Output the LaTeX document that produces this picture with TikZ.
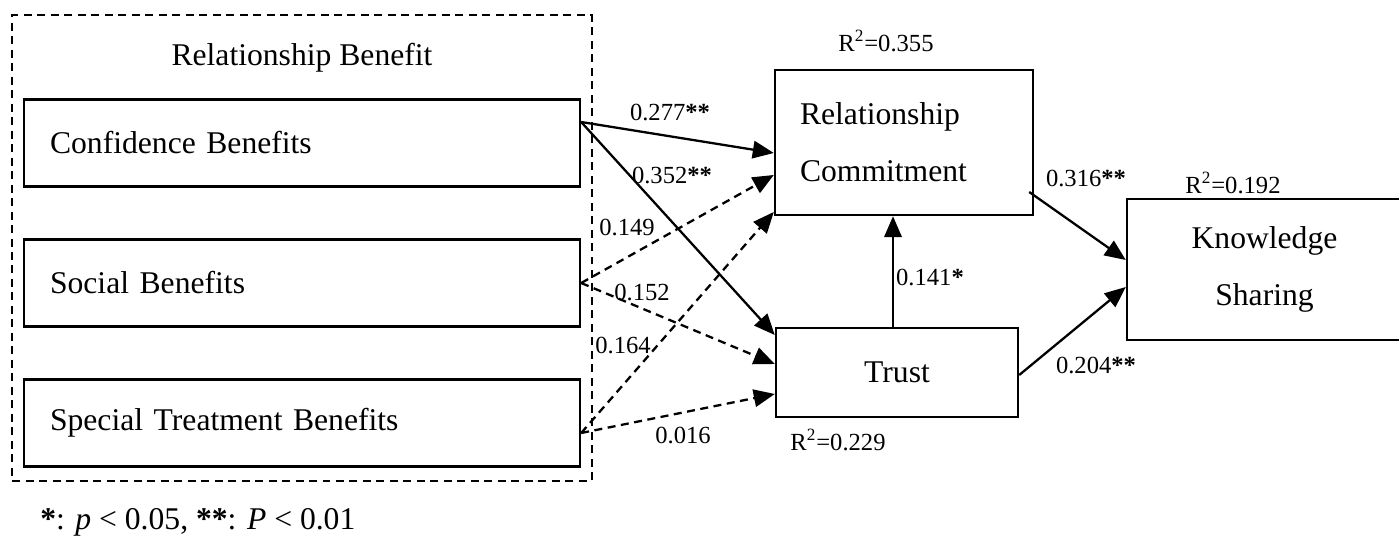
\documentclass[tikz,border=0pt]{standalone}
\usepackage{fontspec}
\setmainfont{Liberation Serif}
\usetikzlibrary{positioning,arrows.meta}

\tikzset{
  benefit/.style={draw,line width=1.4pt,minimum width=11.12cm,minimum height=1.74cm,
    text width=10.08cm,inner xsep=0.52cm,align=left},
  construct/.style={draw,line width=1.4pt,inner sep=0pt},
  sigpath/.style={line width=1.3pt,->},
  nspath/.style={line width=1.3pt,->,dash pattern=on 1.6mm off 1.1mm},
  coef/.style={font=\fontsize{14}{16}\selectfont,inner sep=0pt}
}

\begin{document}
\begin{tikzpicture}[x=0.02cm,y=-0.02cm,>={Triangle[length=4.2mm,width=3.5mm]},
  font=\fontsize{18}{21.6}\selectfont]
\useasboundingbox (0,0) rectangle (1399,537);

% ================= Relationship benefit group =================
\node[draw,line width=1.2pt,dash pattern=on 1.6mm off 1.1mm,minimum width=11.6cm,
  minimum height=9.32cm] (rb) at (302,248) {};
\node (rbtitle) at (302,58) {Relationship Benefit};
\node[benefit] (cb)  at (302,143) {Confidence Benefits};
\node[benefit] (sb)  at (302,283) {Social Benefits};
\node[benefit] (stb) at (302,423) {Special Treatment Benefits};

% ================= Mediators and outcome =================
\node[construct,minimum width=5.16cm,minimum height=2.9cm,text width=4.16cm,
  inner xsep=0.5cm,align=left,font=\fontsize{18}{32.3}\selectfont] (rc) at (904,142.5)
  {Relationship\\Commitment};
\node[construct,minimum width=4.84cm,minimum height=1.78cm] (tr) at (897,372.5) {Trust};
\node[construct,minimum width=5.5cm,minimum height=2.82cm,align=center,
  font=\fontsize{18}{32.9}\selectfont] (ks) at (1264.5,269.5) {Knowledge\\Sharing};

\node[coef] (r2rc) at (886,41)   {R\textsuperscript{2}=0.355};
\node[coef] (r2tr) at (838,440)  {R\textsuperscript{2}=0.229};
\node[coef] (r2ks) at (1233,183) {R\textsuperscript{2}=0.192};

% ================= Paths =================
\draw[sigpath] ([yshift=4.2mm]cb.east) -- ([yshift=-2.1mm]rc.west);
\draw[sigpath] ([yshift=4.2mm]cb.east) -- ([yshift=7.5mm]tr.west);
\draw[nspath] (sb.east) -- ([yshift=-6.5mm]rc.west);
\draw[nspath] (sb.east) -- ([yshift=1.7mm]tr.west);
\draw[nspath] ([yshift=-2mm]stb.east) -- ([yshift=-13.9mm]rc.west);
\draw[nspath] ([yshift=-2mm]stb.east) -- ([yshift=-4.3mm]tr.west);
\draw[sigpath] ([xshift=-0.8mm]tr.north) -- ([xshift=-0.8mm]tr.north |- rc.south);
\draw[sigpath] ([xshift=-1mm,yshift=-9.9mm]rc.east) -- ([yshift=1.9mm]ks.west);
\draw[sigpath] ([yshift=-0.5mm]tr.east) -- ([yshift=-3.5mm]ks.west);

\node[coef] (c1) at (670,112)  {0.277\textbf{**}};
\node[coef] (c2) at (672,175)  {0.352\textbf{**}};
\node[coef] (c3) at (627,227)  {0.149};
\node[coef] (c4) at (642,292)  {0.152};
\node[coef] (c5) at (623,345)  {0.164};
\node[coef] (c6) at (683,435)  {0.016};
\node[coef] (c7) at (930,277)  {0.141\textbf{*}};
\node[coef] (c8) at (1086,178) {0.316\textbf{**}};
\node[coef] (c9) at (1096,365) {0.204\textbf{**}};

% ================= Note =================
\node[anchor=west,inner sep=0pt] (note) at (40,522)
  {\textbf{*}: \textit{p} < 0.05, \textbf{**}: \textit{P} < 0.01};
\end{tikzpicture}
\end{document}
